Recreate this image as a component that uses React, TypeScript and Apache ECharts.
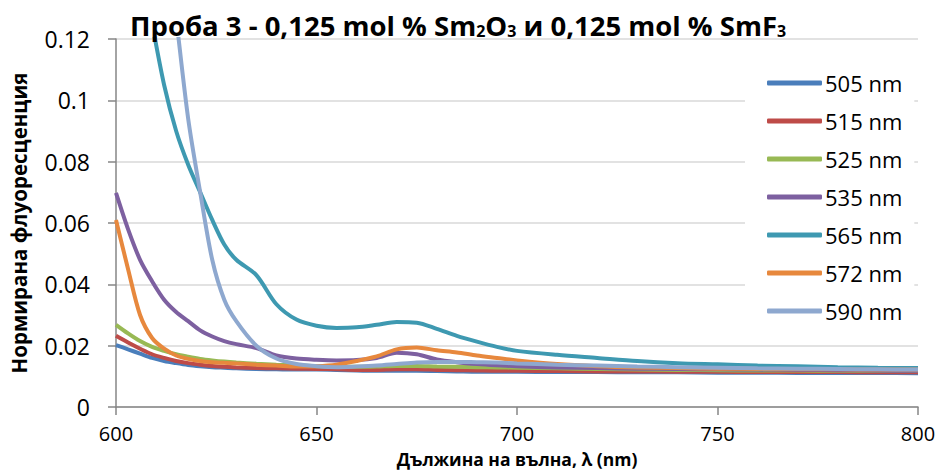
import React, { useEffect, useRef } from "react";
import * as echarts from "echarts";

const wavelengths = [600, 603, 606, 609, 612, 615, 618, 621, 624, 627, 630, 635, 640, 645, 650, 655, 660, 665, 670, 675, 680, 685, 690, 695, 700, 710, 720, 730, 740, 750, 760, 770, 780, 790, 800];

const s505 = [0.0202, 0.0188, 0.0174, 0.016, 0.015, 0.0143, 0.0137, 0.0133, 0.013, 0.0128, 0.0126, 0.0124, 0.0123, 0.0122, 0.0122, 0.0121, 0.0119, 0.0118, 0.0118, 0.0118, 0.0117, 0.0116, 0.0115, 0.0115, 0.0115, 0.0114, 0.0114, 0.0113, 0.0113, 0.0112, 0.0112, 0.0111, 0.0111, 0.0111, 0.011];
const s515 = [0.0232, 0.021, 0.019, 0.0172, 0.016, 0.015, 0.0143, 0.0138, 0.0134, 0.0131, 0.0129, 0.0127, 0.0126, 0.0125, 0.0124, 0.0123, 0.0121, 0.0121, 0.0123, 0.0123, 0.0121, 0.012, 0.0119, 0.0118, 0.0118, 0.0117, 0.0116, 0.0116, 0.0115, 0.0115, 0.0114, 0.0114, 0.0114, 0.0113, 0.0113];
const s525 = [0.0268, 0.024, 0.0215, 0.0196, 0.0183, 0.0172, 0.0164, 0.0157, 0.0152, 0.0148, 0.0145, 0.0141, 0.0138, 0.0136, 0.0133, 0.0131, 0.0131, 0.0132, 0.0134, 0.0134, 0.0132, 0.0131, 0.013, 0.0129, 0.0128, 0.0126, 0.0124, 0.0122, 0.0121, 0.012, 0.0119, 0.0119, 0.0118, 0.0118, 0.0118];
const s535 = [0.0698, 0.058, 0.048, 0.041, 0.035, 0.031, 0.028, 0.025, 0.023, 0.0215, 0.0205, 0.0192, 0.0168, 0.0158, 0.0154, 0.0152, 0.0153, 0.016, 0.0177, 0.0172, 0.0155, 0.0146, 0.014, 0.0136, 0.0133, 0.0129, 0.0127, 0.0125, 0.0124, 0.0123, 0.0122, 0.0121, 0.012, 0.0119, 0.0118];
const s565 = [0.2, 0.17, 0.145, 0.125, 0.105, 0.09, 0.079, 0.07, 0.061, 0.053, 0.048, 0.043, 0.0335, 0.0285, 0.0265, 0.0258, 0.026, 0.0268, 0.0277, 0.0275, 0.0255, 0.0232, 0.0213, 0.0196, 0.0183, 0.017, 0.016, 0.015, 0.0143, 0.0139, 0.0135, 0.0133, 0.013, 0.0128, 0.0127];
const s572 = [0.061, 0.045, 0.03, 0.0225, 0.019, 0.0168, 0.0157, 0.015, 0.0146, 0.0144, 0.0142, 0.0138, 0.0135, 0.0132, 0.0133, 0.0138, 0.015, 0.0165, 0.0188, 0.0194, 0.0185, 0.0178, 0.0168, 0.016, 0.0152, 0.014, 0.0133, 0.0129, 0.0127, 0.0125, 0.0124, 0.0123, 0.0123, 0.0122, 0.0122];
const s590 = [0.45, 0.35, 0.27, 0.21, 0.16, 0.127, 0.094, 0.07, 0.048, 0.035, 0.028, 0.02, 0.0158, 0.014, 0.0133, 0.013, 0.0132, 0.0135, 0.014, 0.0145, 0.0147, 0.0147, 0.0146, 0.0145, 0.0142, 0.0138, 0.0135, 0.0132, 0.013, 0.0128, 0.0126, 0.0125, 0.0124, 0.0123, 0.0122];

const seriesNames = ["505 nm", "515 nm", "525 nm", "535 nm", "565 nm", "572 nm", "590 nm"];
const seriesValues = [s505, s515, s525, s535, s565, s572, s590];
const seriesColors = ["#4a7ebb", "#be4b48", "#98b954", "#7d60a0", "#3e99b1", "#e7883d", "#8ea8cf"];

const FONT = "'Open Sans', 'Noto Sans', sans-serif";

export default function App() {
  const ref = useRef<HTMLDivElement>(null);
  useEffect(() => {
    if (!ref.current) return;
    const chart = echarts.init(ref.current, null, { renderer: "svg" });
    chart.setOption({
      animation: false,
      backgroundColor: "#fff",
      textStyle: { fontFamily: FONT },
      title: {
        left: 130,
        top: 9,
        padding: 0,
        text: "{a|Проба 3 - 0,125 mol % Sm}{s|2}{a|O}{s|3}{a| и 0,125 mol % SmF}{s|3}",
        textStyle: {
          rich: {
            a: { fontFamily: FONT, fontSize: 27.5, fontWeight: "bold", color: "#000", lineHeight: 30, verticalAlign: "bottom" },
            s: { fontFamily: FONT, fontSize: 16, fontWeight: "bold", color: "#000", lineHeight: 9, verticalAlign: "bottom" },
          },
        },
      },
      grid: { left: 116, right: 24, top: 39, bottom: 64, outerBoundsMode: "none" },
      legend: {
        orient: "vertical",
        left: 745,
        top: 65,
        padding: [6, 12, 6, 22],
        backgroundColor: "#fff",
        itemWidth: 55,
        itemHeight: 5,
        itemGap: 14,
        icon: "roundRect",
        data: seriesNames,
        textStyle: { fontFamily: FONT, fontSize: 22, color: "#000", lineHeight: 24, padding: [0, 0, 0, -2] },
      },
      xAxis: {
        type: "value",
        min: 600,
        max: 800,
        interval: 50,
        name: "Дължина на вълна, λ (nm)",
        nameLocation: "middle",
        nameGap: 43,
        nameMoveOverlap: false,
        nameTextStyle: { fontFamily: FONT, fontSize: 17.5, lineHeight: 18, fontWeight: "bold", color: "#000" },
        axisLine: { lineStyle: { color: "#868686", width: 1.5 } },
        axisTick: { show: true, length: 8, lineStyle: { color: "#868686", width: 1.5 } },
        axisLabel: { fontFamily: FONT, fontSize: 20, lineHeight: 20, color: "#000", margin: 16 },
        splitLine: { show: false },
      },
      yAxis: {
        type: "value",
        min: 0,
        max: 0.12,
        interval: 0.02,
        name: "Нормирана флуоресценция",
        nameLocation: "middle",
        nameGap: 87,
        nameMoveOverlap: false,
        nameTextStyle: { fontFamily: FONT, fontSize: 20.5, fontWeight: "bold", color: "#000" },
        axisLine: { show: true, lineStyle: { color: "#868686", width: 1.5 } },
        axisTick: { show: true, length: 8, lineStyle: { color: "#868686", width: 1.5 } },
        axisLabel: { fontFamily: FONT, fontSize: 23, color: "#000", margin: 26 },
        splitLine: { show: true, lineStyle: { color: "#d9d9d9", width: 1.5 } },
      },
      series: seriesNames.map((name, i) => ({
        name,
        type: "line",
        data: wavelengths.map((w, j) => [w, seriesValues[i][j]]),
        showSymbol: false,
        smooth: 0.3,
        clip: true,
        lineStyle: { color: seriesColors[i], width: 4 },
        itemStyle: { color: seriesColors[i] },
      })),
    });
    return () => chart.dispose();
  }, []);
  return <div ref={ref} style={{ position: "fixed", left: 0, top: 0, width: 942, height: 471 }} />;
}
